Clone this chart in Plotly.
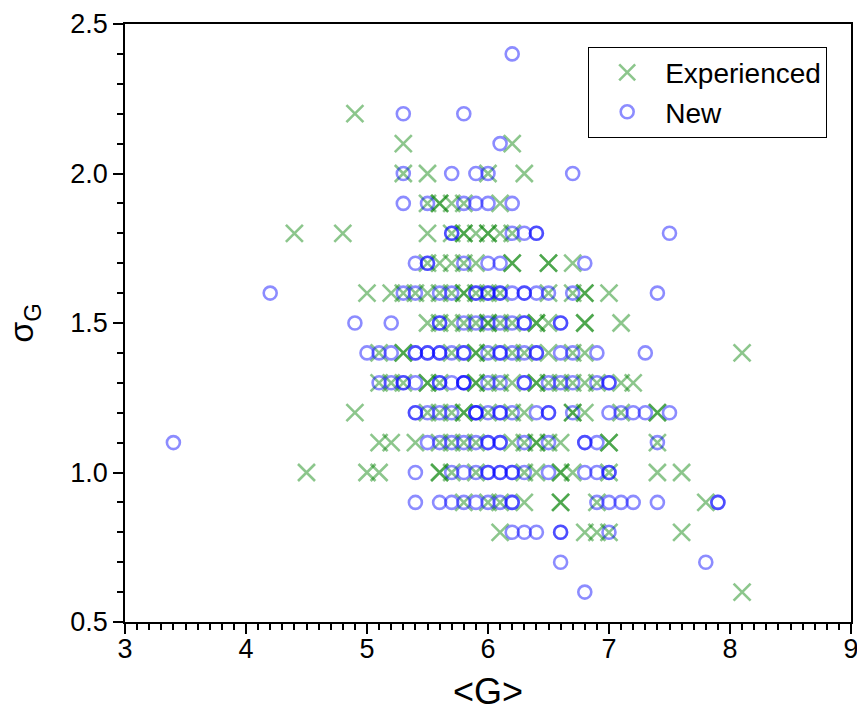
import plotly.graph_objects as go

# ---- data: sigma_G rows and <G> values in each row ----
exp_row_y = [2.2, 2.1, 2.0, 1.9, 1.8, 1.7, 1.6, 1.5, 1.4, 1.3, 1.2, 1.1, 1.0, 0.9, 0.8, 0.6]
exp_row_x = [
    [4.9],
    [5.3, 6.2],
    [5.3, 5.5, 6.0, 6.3],
    [5.5, 5.6, 5.6, 5.7, 5.8, 6.1],
    [4.4, 4.8, 5.5, 5.7, 5.8, 5.8, 5.9, 6.0, 6.0, 6.1, 6.2],
    [5.5, 5.6, 5.7, 5.8, 5.9, 6.2, 6.2, 6.5, 6.5, 6.7],
    [5.0, 5.2, 5.3, 5.4, 5.5, 5.6, 5.7, 5.8, 5.8, 5.9, 6.0, 6.1, 6.5, 6.7, 6.8, 6.8, 7.0],
    [5.5, 5.6, 5.7, 5.8, 5.9, 6.0, 6.0, 6.1, 6.2, 6.4, 6.4, 6.5, 6.8, 6.8, 7.1],
    [5.1, 5.3, 5.3, 5.7, 5.9, 5.9, 6.0, 6.2, 6.3, 6.5, 6.7, 6.8, 8.1],
    [5.1, 5.2, 5.3, 5.5, 5.5, 5.6, 5.9, 5.9, 6.0, 6.1, 6.2, 6.4, 6.4, 6.5, 6.6, 6.7, 6.8, 6.9, 7.1, 7.2],
    [4.9, 5.5, 5.6, 5.7, 5.8, 5.8, 6.0, 6.2, 6.3, 6.7, 6.7, 6.8, 7.1, 7.4, 7.4],
    [5.1, 5.2, 5.4, 5.6, 5.7, 5.8, 5.9, 6.2, 6.3, 6.4, 6.4, 6.5, 6.6, 7.0, 7.0, 7.4],
    [4.5, 5.0, 5.1, 5.6, 5.6, 5.7, 5.9, 6.3, 6.4, 6.6, 6.6, 6.7, 7.0, 7.4, 7.6],
    [5.8, 6.0, 6.1, 6.3, 6.6, 6.6, 6.9, 7.8],
    [6.1, 6.8, 6.9, 7.0, 7.6],
    [8.1],
]

new_row_y = [2.4, 2.2, 2.1, 2.0, 1.9, 1.8, 1.7, 1.6, 1.5, 1.4, 1.3, 1.2, 1.1, 1.0, 0.9, 0.8, 0.7, 0.6]
new_row_x = [
    [6.2],
    [5.3, 5.8],
    [6.1],
    [5.3, 5.7, 5.9, 6.0, 6.7],
    [5.3, 5.5, 5.8, 5.9, 6.0, 6.2],
    [5.7, 5.7, 6.2, 6.3, 6.4, 6.4, 7.5],
    [5.4, 5.5, 5.5, 5.8, 6.0, 6.1, 6.8],
    [4.2, 5.3, 5.4, 5.6, 5.7, 5.9, 5.9, 6.0, 6.0, 6.1, 6.1, 6.2, 6.3, 6.3, 6.4, 6.5, 6.7, 7.4],
    [4.9, 5.2, 5.6, 5.6, 5.8, 5.9, 6.0, 6.1, 6.2, 6.3, 6.3, 6.6, 6.6],
    [5.0, 5.1, 5.2, 5.4, 5.4, 5.5, 5.5, 5.6, 5.6, 5.7, 5.8, 5.8, 6.0, 6.1, 6.1, 6.2, 6.3, 6.4, 6.4, 6.6, 6.7, 6.9, 7.3],
    [5.1, 5.2, 5.3, 5.3, 5.4, 5.6, 5.6, 5.7, 5.8, 5.8, 5.8, 6.0, 6.1, 6.3, 6.3, 6.5, 6.6, 6.7, 6.9, 7.0, 7.0],
    [5.4, 5.4, 5.5, 5.6, 5.7, 5.9, 5.9, 5.9, 6.0, 6.1, 6.1, 6.2, 6.4, 6.5, 6.5, 6.7, 7.0, 7.1, 7.2, 7.3, 7.5],
    [3.4, 5.5, 5.6, 5.7, 5.8, 5.9, 6.0, 6.0, 6.1, 6.1, 6.3, 6.5, 6.8, 6.8, 6.9, 7.4],
    [5.4, 5.7, 5.8, 5.9, 6.0, 6.0, 6.1, 6.1, 6.2, 6.2, 6.3, 6.5, 6.8, 6.9, 7.0, 7.0],
    [5.4, 5.6, 5.7, 5.8, 5.9, 6.0, 6.1, 6.2, 6.2, 6.9, 7.0, 7.1, 7.2, 7.4, 7.9, 7.9],
    [6.2, 6.3, 6.4, 6.6, 6.6, 7.0],
    [6.6, 7.8],
    [6.8],
]

x_ticks = [3, 4, 5, 6, 7, 8, 9]
y_ticks = [0.5, 1.0, 1.5, 2.0, 2.5]
y_tick_text = ["0.5", "1.0", "1.5", "2.0", "2.5"]


def flatten(rows_y, rows_x):
    xs, ys = [], []
    for yv, row in zip(rows_y, rows_x):
        for xv in row:
            xs.append(xv)
            ys.append(yv)
    return xs, ys


exp_x, exp_y = flatten(exp_row_y, exp_row_x)
new_x, new_y = flatten(new_row_y, new_row_x)

FONT = "Arial, Liberation Sans, sans-serif"

fig = go.Figure()
fig.add_trace(go.Scatter(
    x=exp_x, y=exp_y, mode="markers", name="Experienced",
    marker=dict(symbol="x-thin-open", size=17, color="rgb(0,128,0)", opacity=0.45,
                line=dict(width=2.6, color="rgb(0,128,0)")),
))
fig.add_trace(go.Scatter(
    x=new_x, y=new_y, mode="markers", name="New",
    marker=dict(symbol="circle-open", size=13, color="rgb(0,0,255)", opacity=0.45,
                line=dict(width=2.6, color="rgb(0,0,255)")),
))

axis_common = dict(showgrid=False, zeroline=False, showline=True, linecolor="black",
                   linewidth=1.5, tickcolor="black", tickwidth=1.5, automargin=False)

fig.update_layout(
    width=857, height=713,
    margin=dict(l=125, r=6, t=24, b=91),
    paper_bgcolor="white", plot_bgcolor="white",
    font=dict(family=FONT, size=28, color="black"),
    showlegend=True,
    legend=dict(x=0.638, y=0.962, xanchor="left", yanchor="top",
                bordercolor="black", borderwidth=1, bgcolor="white", itemwidth=66,
                font=dict(size=28, family=FONT), tracegroupgap=0),
    xaxis=dict(range=[3, 9], tickvals=x_ticks, ticks="outside", ticklen=10,
               ticklabelstandoff=-8, ticklabeloverflow="allow",
               minor=dict(dtick=0.1, ticks="outside", ticklen=6, tickcolor="black", tickwidth=1.5),
               title=dict(text="&lt;G&gt;", font=dict(size=36), standoff=16),
               tickfont=dict(size=27), mirror=True, **axis_common),
    yaxis=dict(range=[0.5, 2.5], tickvals=y_ticks, ticktext=y_tick_text, ticks="outside", ticklen=10,
               ticklabeloverflow="allow",
               minor=dict(dtick=0.1, ticks="outside", ticklen=6, tickcolor="black", tickwidth=1.5),
               title=dict(text="σ<sub>G</sub>", font=dict(size=34), standoff=26),
               tickfont=dict(size=27), mirror=True, **axis_common),
    xaxis2=dict(range=[3, 9], overlaying="x", side="top", tickvals=x_ticks, ticks="inside",
                ticklen=10, showticklabels=False,
                minor=dict(dtick=0.1, ticks="inside", ticklen=6, tickcolor="black", tickwidth=1.5),
                **axis_common),
    yaxis2=dict(range=[0.5, 2.5], overlaying="y", side="right", tickvals=y_ticks, ticks="inside",
                ticklen=10, showticklabels=False,
                minor=dict(dtick=0.1, ticks="inside", ticklen=6, tickcolor="black", tickwidth=1.5),
                **axis_common),
)

fig.write_html("out.html", config={"displayModeBar": False},
               post_script="document.body.style.margin='0px';")
